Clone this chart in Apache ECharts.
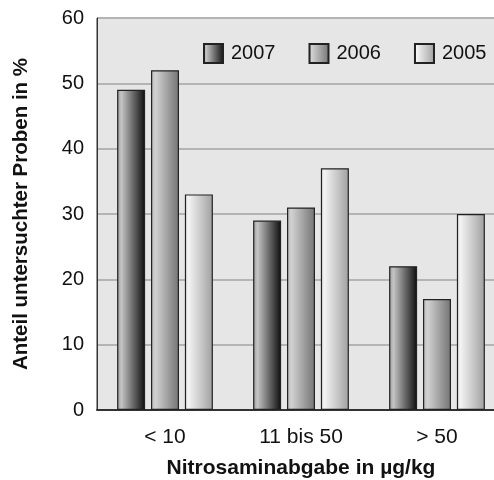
<!DOCTYPE html>
<html>
<head>
<meta charset="utf-8">
<script src="https://cdn.jsdelivr.net/npm/echarts@6/dist/echarts.min.js"></script>
<style>
  html, body { margin: 0; padding: 0; background: #ffffff; }
  #chart { width: 494px; height: 480px; }
</style>
</head>
<body>
<div id="chart"></div>
<script>
// Nitrosamine release, share of tested samples per category and year
const categories = ['< 10', '11 bis 50', '> 50'];
const years = ['2007', '2006', '2005'];
const values2007 = [49, 29, 22];
const values2006 = [52, 31, 17];
const values2005 = [33, 37, 30];
const yTicks = { min: 0, max: 60, interval: 10 };

const FONT = '"Liberation Sans", Arial, Helvetica, sans-serif';

function grad(stops) {
  return new echarts.graphic.LinearGradient(0, 0, 1, 0,
    stops.map(([offset, color]) => ({ offset, color })));
}

const fills = {
  '2007': grad([[0, '#9a9a9a'], [0.15, '#c4c4c4'], [0.55, '#6e6e6e'], [1, '#0e0e0e']]),
  '2006': grad([[0, '#b4b4b4'], [0.15, '#d2d2d2'], [1, '#737373']]),
  '2005': grad([[0, '#d8d8d8'], [0.12, '#f4f4f4'], [1, '#a0a0a0']])
};

const seriesValues = { '2007': values2007, '2006': values2006, '2005': values2005 };

const chart = echarts.init(document.getElementById('chart'), null, { renderer: 'canvas' });

chart.setOption({
  animation: false,
  backgroundColor: '#ffffff',
  textStyle: { fontFamily: FONT },
  grid: {
    // the plot runs slightly past the right edge of the canvas
    left: 97, right: -11, top: 18, bottom: 70,
    outerBoundsMode: 'none',
    containLabel: false,
    show: true, backgroundColor: '#e6e6e6',
    borderColor: '#333333', borderWidth: 1
  },
  legend: {
    data: years,
    top: 43,
    left: 203,
    padding: 0,
    itemWidth: 19,
    itemHeight: 19,
    itemGap: 33,
    textStyle: { fontSize: 20, color: '#111111', fontFamily: FONT, padding: [0, 0, 0, 3] },
    icon: 'rect'
  },
  xAxis: {
    type: 'category',
    data: categories,
    axisLine: { show: true, lineStyle: { color: '#333333', width: 2 } },
    axisTick: { show: false },
    axisLabel: { fontSize: 21, color: '#111111', margin: 17, fontFamily: FONT },
    name: 'Nitrosaminabgabe in µg/kg',
    nameLocation: 'middle',
    nameGap: 48,
    nameTextStyle: { fontSize: 21, fontWeight: 'bold', color: '#111111', fontFamily: FONT }
  },
  yAxis: {
    type: 'value',
    min: yTicks.min,
    max: yTicks.max,
    interval: yTicks.interval,
    axisLine: { show: true, lineStyle: { color: '#333333', width: 1 } },
    axisTick: { show: false },
    splitLine: { show: true, lineStyle: { color: '#b4b4b4', width: 2 } },
    axisLabel: { fontSize: 20, color: '#111111', margin: 13, fontFamily: FONT },
    name: 'Anteil untersuchter Proben in %',
    nameLocation: 'middle',
    nameGap: 65,
    nameTextStyle: { fontSize: 20.5, fontWeight: 'bold', color: '#111111', fontFamily: FONT }
  },
  series: years.map(y => ({
    name: y,
    type: 'bar',
    data: seriesValues[y],
    barWidth: 28,
    barGap: '21%',
    itemStyle: { color: fills[y], borderColor: '#222222', borderWidth: 1.2 }
  }))
});
</script>
</body>
</html>
